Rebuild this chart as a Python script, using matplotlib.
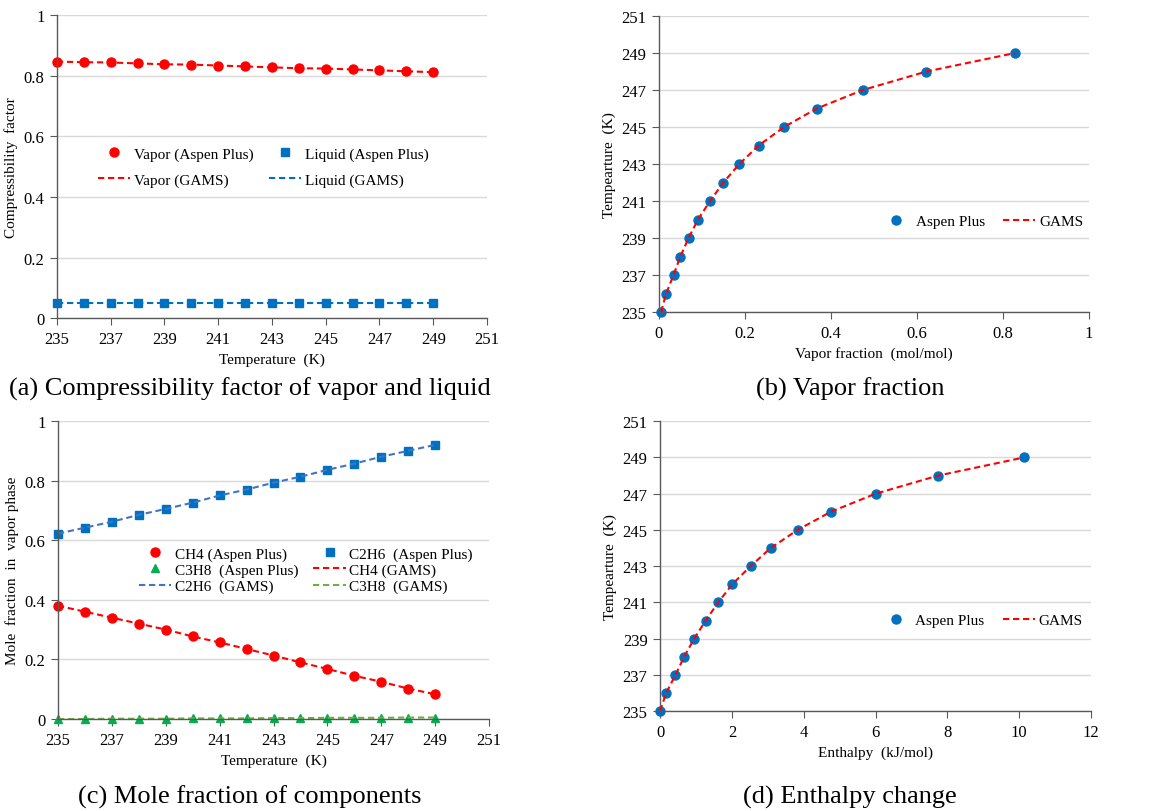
import numpy as np
import matplotlib.pyplot as plt

plt.rcParams['font.family'] = ['Liberation Serif', 'DejaVu Serif']

# data
temps = [235, 236, 237, 238, 239, 240, 241, 242, 243, 244, 245, 246, 247, 248, 249]

z_vapor = [0.847, 0.845, 0.844, 0.841, 0.838, 0.837, 0.834, 0.831, 0.828,
           0.825, 0.824, 0.821, 0.818, 0.815, 0.812]
z_liquid = [0.050] * 15

vap_frac = [0.005, 0.017, 0.034, 0.050, 0.069, 0.091, 0.119, 0.150, 0.187,
            0.232, 0.291, 0.367, 0.474, 0.622, 0.828]

y_ch4 = [0.380, 0.360, 0.340, 0.320, 0.300, 0.277, 0.257, 0.235, 0.213,
         0.190, 0.168, 0.145, 0.125, 0.102, 0.083]
y_c2h6 = [0.622, 0.642, 0.662, 0.685, 0.705, 0.726, 0.750, 0.770, 0.793,
          0.813, 0.836, 0.857, 0.880, 0.900, 0.920]
y_c3h8 = [0.000, 0.000, 0.001, 0.001, 0.001, 0.002, 0.002, 0.002, 0.003,
          0.003, 0.004, 0.004, 0.004, 0.005, 0.005]

enthalpy = [0.00, 0.17, 0.43, 0.67, 0.95, 1.27, 1.62, 2.01, 2.52,
            3.08, 3.83, 4.75, 6.00, 7.74, 10.13]

RED = '#FF0000'
BLUE = '#0070C0'
LBLUE = '#4472C4'
GREEN = '#00B050'
LGREEN = '#70AD47'
DASH = (0, (3, 1.8))

leg_kw = dict(frameon=False, fontsize=11, loc='center', handlelength=2.1,
              handletextpad=0.25)


def style(ax):
    for s in ['top', 'right']:
        ax.spines[s].set_visible(False)
    for s in ['left', 'bottom']:
        ax.spines[s].set_color('#595959')
        ax.spines[s].set_linewidth(1.0)
    ax.grid(axis='y', color='#D9D9D9', linewidth=1.0)
    ax.set_axisbelow(True)
    ax.tick_params(direction='out', length=5, color='#595959',
                   labelsize=12, pad=4)


fig = plt.figure(figsize=(11.6, 8.12), dpi=100)

# (a) compressibility factor
ax = fig.add_axes([0.0491, 0.607, 0.3707, 0.373])
h1, = ax.plot(temps, z_vapor, 'o', color=RED, ms=6.5, clip_on=False,
              label='Vapor (Aspen Plus)')
h2, = ax.plot(temps, z_liquid, 's', color=BLUE, ms=6, clip_on=False,
              label='Liquid (Aspen Plus)')
h3, = ax.plot(temps, z_vapor, color=RED, ls=DASH, lw=1.5, label='Vapor (GAMS)')
h4, = ax.plot(temps, z_liquid, color=BLUE, ls=DASH, lw=1.5, label='Liquid (GAMS)')
ax.set_xlim(235, 251)
ax.set_ylim(0, 1)
ax.set_xticks(np.arange(235, 252, 2))
ax.set_yticks([0, 0.2, 0.4, 0.6, 0.8, 1])
ax.set_yticklabels(['0', '0.2', '0.4', '0.6', '0.8', '1'])
ax.set_xlabel('Temperature  (K)', fontsize=11)
ax.set_ylabel('Compressibility  factor', fontsize=11)
style(ax)
ax.legend(handles=[h1, h3, h2, h4], ncol=2, bbox_to_anchor=(0.48, 0.50),
          columnspacing=1.0, labelspacing=0.8, **leg_kw)

# (b) vapor fraction
ax = fig.add_axes([0.568, 0.6145, 0.3707, 0.3645])
ax.plot(vap_frac, temps, 'o', color=BLUE, ms=6.5, clip_on=False,
        label='Aspen Plus', zorder=2)
ax.plot(vap_frac, temps, color=RED, ls=DASH, lw=1.5, label='GAMS', zorder=3)
ax.set_xlim(0, 1)
ax.set_ylim(235, 251)
ax.set_xticks([0, 0.2, 0.4, 0.6, 0.8, 1])
ax.set_xticklabels(['0', '0.2', '0.4', '0.6', '0.8', '1'])
ax.set_yticks(np.arange(235, 252, 2))
ax.set_xlabel('Vapor fraction  (mol/mol)', fontsize=11)
ax.set_ylabel('Tempearture  (K)', fontsize=11)
style(ax)
ax.legend(ncol=2, bbox_to_anchor=(0.75, 0.307), columnspacing=1.2, **leg_kw)

# (c) mole fraction
ax = fig.add_axes([0.05, 0.1133, 0.3716, 0.367])
c1, = ax.plot(temps, y_ch4, 'o', color=RED, ms=6.5, clip_on=False,
              label='CH4 (Aspen Plus)')
c2, = ax.plot(temps, y_c2h6, 's', color=BLUE, ms=6, clip_on=False,
              label='C2H6  (Aspen Plus)')
c3, = ax.plot(temps, y_c3h8, '^', color=GREEN, ms=6, clip_on=False,
              label='C3H8  (Aspen Plus)')
c4, = ax.plot(temps, y_ch4, color=RED, ls=DASH, lw=1.5, label='CH4 (GAMS)')
c5, = ax.plot(temps, y_c2h6, color=LBLUE, ls=DASH, lw=1.5, label='C2H6  (GAMS)')
c6, = ax.plot(temps, y_c3h8, color=LGREEN, ls=DASH, lw=1.5, label='C3H8  (GAMS)')
ax.set_xlim(235, 251)
ax.set_ylim(0, 1)
ax.set_xticks(np.arange(235, 252, 2))
ax.set_yticks([0, 0.2, 0.4, 0.6, 0.8, 1])
ax.set_yticklabels(['0', '0.2', '0.4', '0.6', '0.8', '1'])
ax.set_xlabel('Temperature  (K)', fontsize=11)
ax.set_ylabel('Mole  fraction  in  vapor phase', fontsize=11)
style(ax)
ax.legend(handles=[c1, c3, c5, c2, c4, c6], ncol=2,
          bbox_to_anchor=(0.575, 0.50), columnspacing=1.0,
          labelspacing=0.15, **leg_kw)

# (d) enthalpy
ax = fig.add_axes([0.569, 0.123, 0.3716, 0.357])
ax.plot(enthalpy, temps, 'o', color=BLUE, ms=6.5, clip_on=False,
        label='Aspen Plus', zorder=2)
ax.plot(enthalpy, temps, color=RED, ls=DASH, lw=1.5, label='GAMS', zorder=3)
ax.set_xlim(0, 12)
ax.set_ylim(235, 251)
ax.set_xticks(np.arange(0, 13, 2))
ax.set_yticks(np.arange(235, 252, 2))
ax.set_xlabel('Enthalpy  (kJ/mol)', fontsize=11)
ax.set_ylabel('Tempearture  (K)', fontsize=11)
style(ax)
ax.legend(ncol=2, bbox_to_anchor=(0.745, 0.314), columnspacing=1.2, **leg_kw)

# captions
fig.text(0.2155, 0.52, '(a) Compressibility factor of vapor and liquid',
         ha='center', va='center', fontsize=19)
fig.text(0.733, 0.52, '(b) Vapor fraction', ha='center', va='center', fontsize=19)
fig.text(0.215, 0.0185, '(c) Mole fraction of components',
         ha='center', va='center', fontsize=19)
fig.text(0.733, 0.0185, '(d) Enthalpy change', ha='center', va='center', fontsize=19)

fig.savefig('out.png', dpi=100)
